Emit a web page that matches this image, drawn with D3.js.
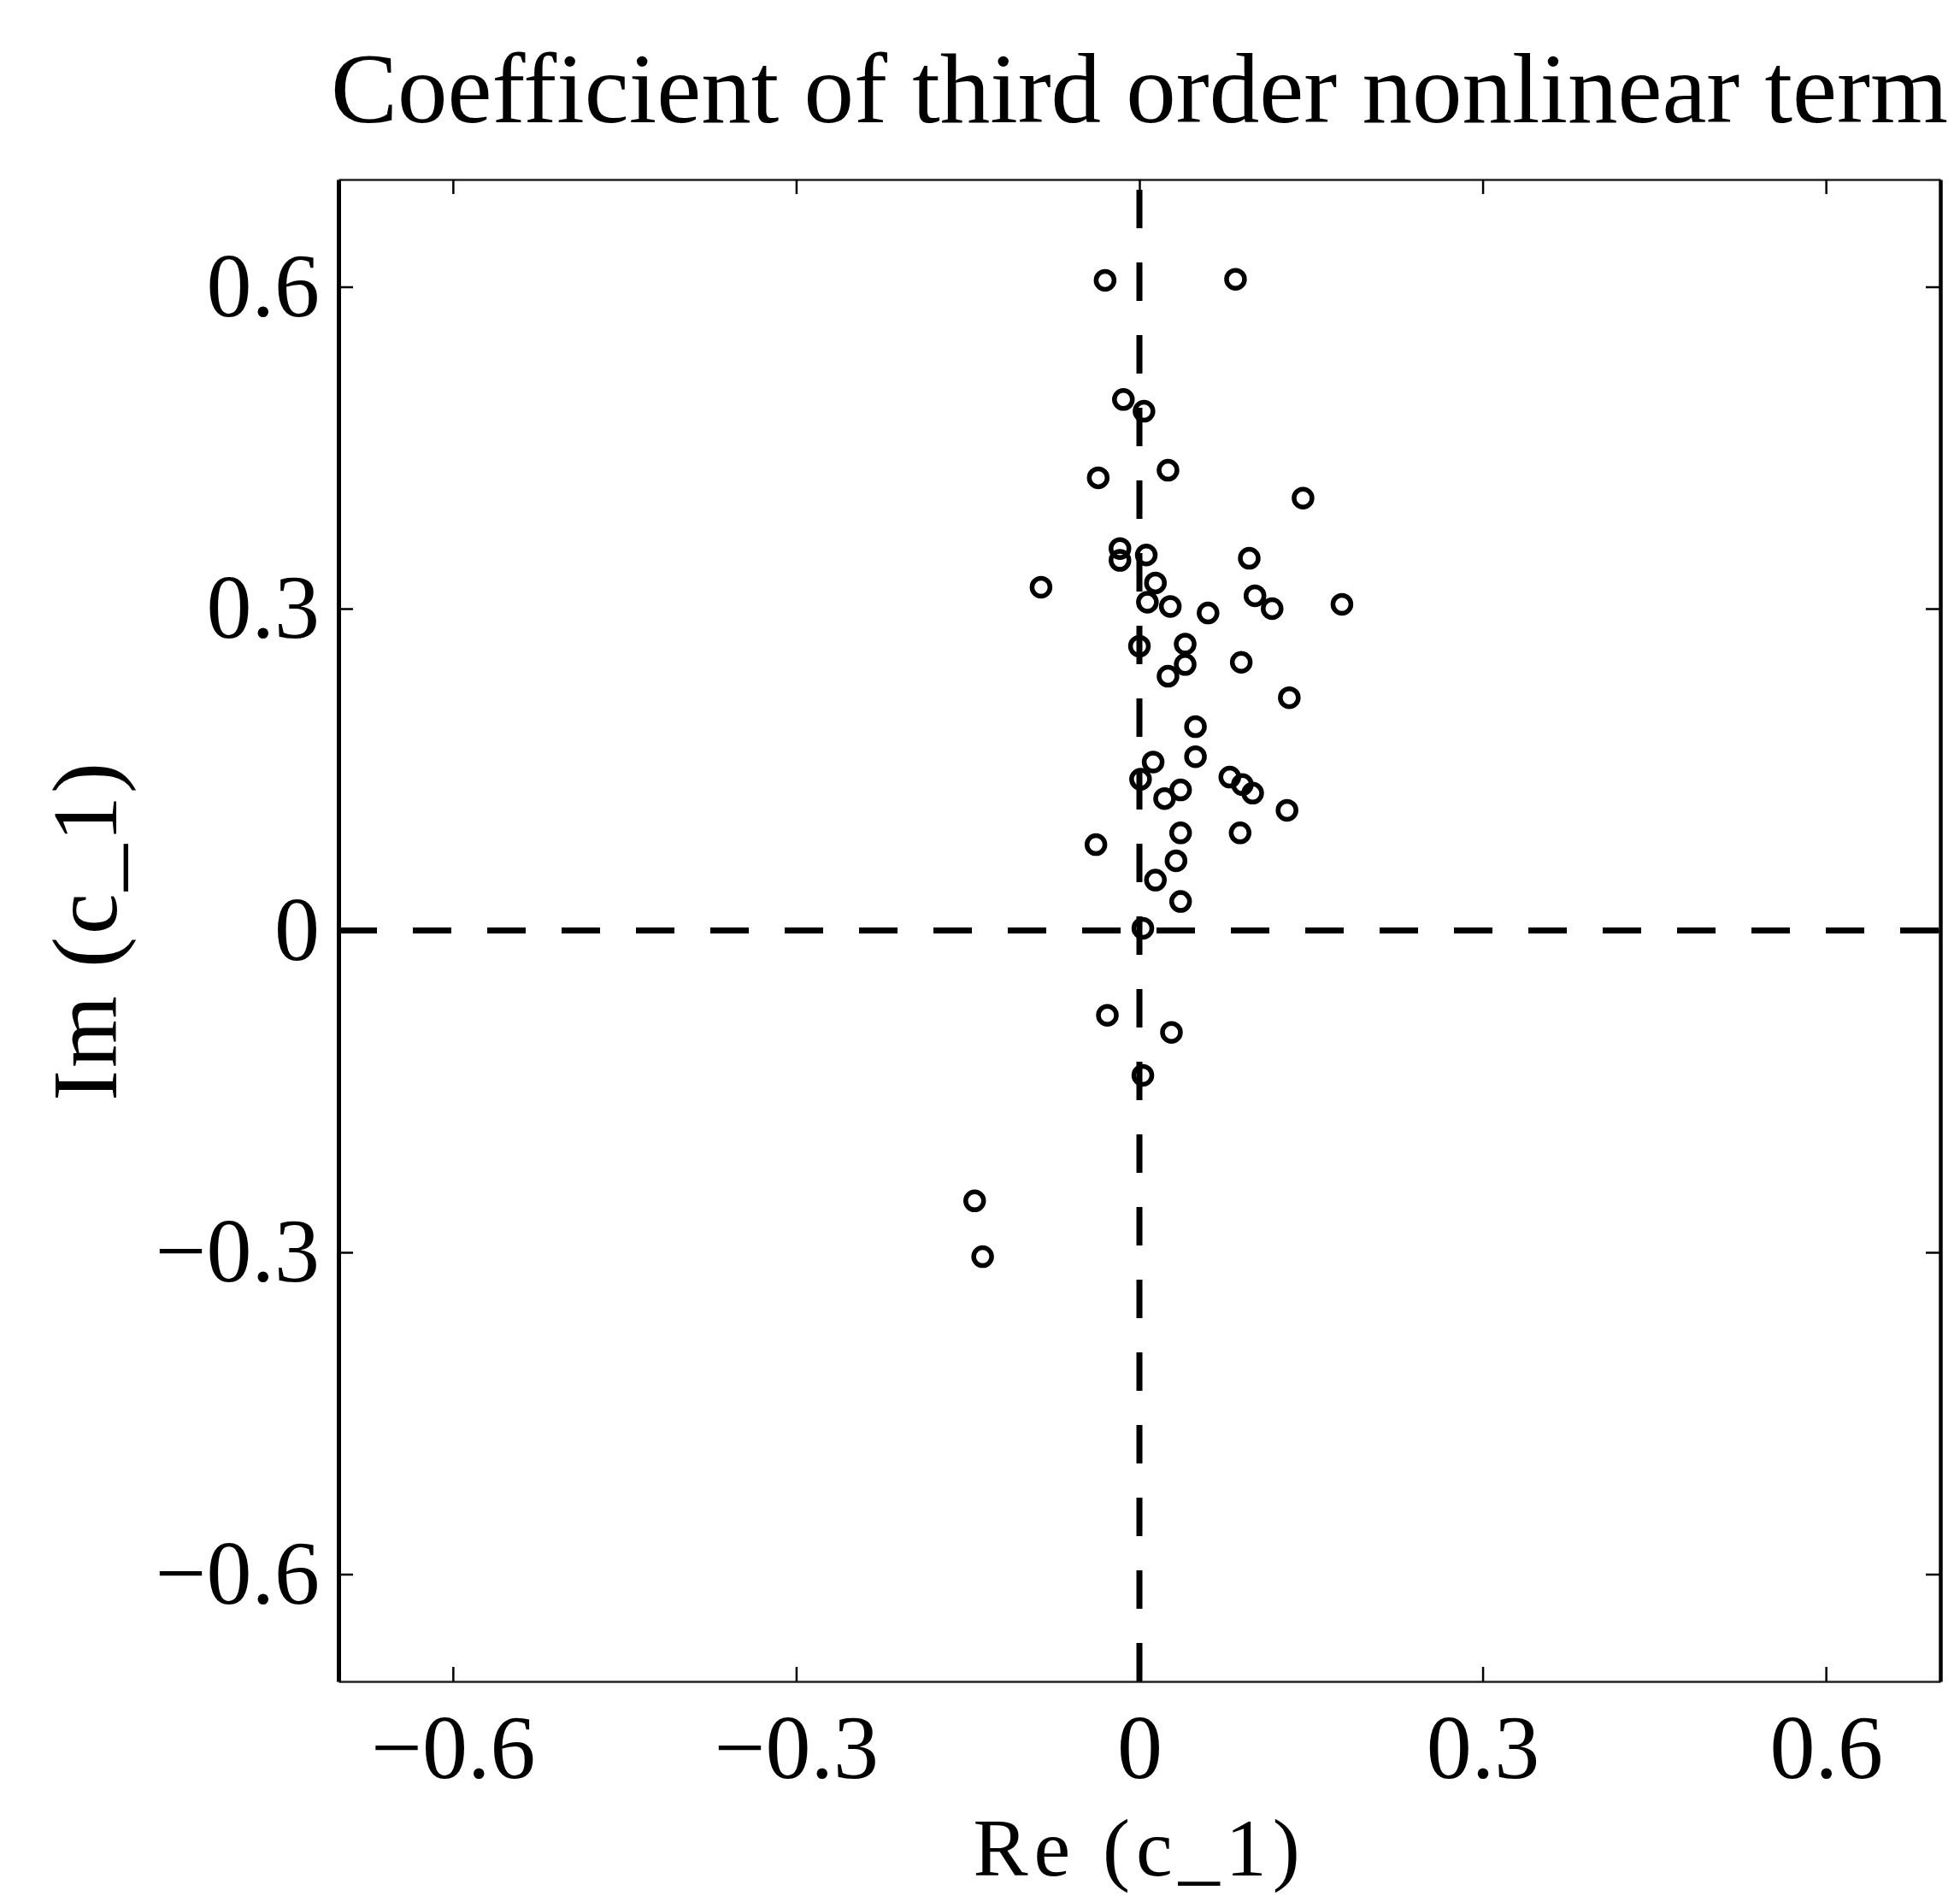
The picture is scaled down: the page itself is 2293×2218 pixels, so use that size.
<!DOCTYPE html>
<html>
<head>
<meta charset="utf-8">
<script src="https://cdn.jsdelivr.net/npm/d3@7"></script>
<style>
  body { margin: 0; background: #fff; }
  svg { display: block; background: #fff; }
  text { font-family: 'Liberation Serif', 'Times New Roman', serif; fill: #000; }
</style>
</head>
<body>
<svg id="chart"></svg>
<script>
const reValues = [-0.030, 0.084, -0.014, 0.004, -0.036, 0.025, 0.143, -0.017, -0.017, 0.006,
  0.096, -0.086, 0.014, 0.007, 0.027, 0.060, 0.101, 0.116, 0.177, 0.000,
  0.040, 0.040, 0.025, 0.089, 0.131, 0.049, 0.049, 0.012, 0.001, 0.036,
  0.022, 0.079, 0.090, 0.099, 0.129, 0.088, -0.038, 0.036, 0.032, 0.014,
  0.036, 0.003, -0.028, 0.028, 0.003, -0.144, -0.137]
const imValues = [0.606, 0.607, 0.495, 0.484, 0.422, 0.429, 0.403, 0.356, 0.345, 0.350,
  0.347, 0.320, 0.324, 0.306, 0.302, 0.296, 0.312, 0.300, 0.304, 0.265,
  0.267, 0.248, 0.237, 0.250, 0.217, 0.190, 0.162, 0.157, 0.141, 0.131,
  0.123, 0.143, 0.136, 0.128, 0.112, 0.091, 0.080, 0.091, 0.065, 0.047,
  0.027, 0.002, -0.079, -0.095, -0.135, -0.252, -0.304]

const axisLimits = [-0.7, 0.7]
const tickValues = [-0.6, -0.3, 0, 0.3, 0.6]
const tickLabels = ['\u22120.6', '\u22120.3', '0', '0.3', '0.6']

const titleText = 'Coefficient of third order nonlinear term'
const xLabel = 'Re (c_1)'
const yLabel = 'Im (c_1)'

const width = 2293
const height = 2218
const plotLeft = 396
const plotRight = 2270
const plotTop = 210
const plotBottom = 1967
const tickLen = 17

const svg = d3.select('#chart').attr('width', width).attr('height', height)

const x = d3.scaleLinear().domain(axisLimits).range([plotLeft, plotRight])
const y = d3.scaleLinear().domain(axisLimits).range([plotBottom, plotTop])

const fmt = (d) => tickLabels[tickValues.indexOf(d)]

const styleAxis = (g, domainWidth, domainColor) => {
  g.attr('font-family', null).attr('font-size', null)
  g.select('.domain').attr('stroke', domainColor).attr('stroke-width', domainWidth)
  g.selectAll('.tick line').attr('stroke', '#000').attr('stroke-width', 2.5)
  g.selectAll('.tick text').attr('font-size', 106)
}

// bottom axis with labels
svg.append('g')
  .attr('transform', 'translate(0,' + plotBottom + ')')
  .call(d3.axisBottom(x).tickValues(tickValues).tickFormat(fmt)
    .tickSizeInner(-tickLen).tickSizeOuter(0).tickPadding(38))
  .call((g) => styleAxis(g, 2.5, '#222'))

// top axis, ticks only
svg.append('g')
  .attr('transform', 'translate(0,' + plotTop + ')')
  .call(d3.axisTop(x).tickValues(tickValues).tickFormat('')
    .tickSizeInner(-tickLen).tickSizeOuter(0))
  .call((g) => styleAxis(g, 2.5, '#222'))

// left axis with labels
svg.append('g')
  .attr('transform', 'translate(' + plotLeft + ',0)')
  .call(d3.axisLeft(y).tickValues(tickValues).tickFormat(fmt)
    .tickSizeInner(-tickLen).tickSizeOuter(0).tickPadding(22))
  .call((g) => styleAxis(g, 5, '#000'))

// right axis, ticks only
svg.append('g')
  .attr('transform', 'translate(' + plotRight + ',0)')
  .call(d3.axisRight(y).tickValues(tickValues).tickFormat('')
    .tickSizeInner(-tickLen).tickSizeOuter(0))
  .call((g) => styleAxis(g, 4.5, '#000'))

// dashed zero lines
const line = d3.line().x((d) => x(d[0])).y((d) => y(d[1]))

svg.append('path')
  .attr('d', line(axisLimits.map((v) => [v, 0])))
  .attr('fill', 'none')
  .attr('stroke', '#000')
  .attr('stroke-width', 7)
  .attr('stroke-dasharray', '45,42')

svg.append('path')
  .attr('d', line(axisLimits.map((v) => [0, v])))
  .attr('fill', 'none')
  .attr('stroke', '#000')
  .attr('stroke-width', 7)
  .attr('stroke-dasharray', '45,40')

// points
svg.append('g')
  .selectAll('circle')
  .data(d3.zip(reValues, imValues))
  .enter()
  .append('circle')
  .attr('cx', (d) => x(d[0]))
  .attr('cy', (d) => y(d[1]))
  .attr('r', 10.5)
  .attr('fill', 'none')
  .attr('stroke', '#000')
  .attr('stroke-width', 5.5)

// title and labels
svg.append('text')
  .attr('x', (plotLeft + plotRight) / 2)
  .attr('y', 143)
  .attr('text-anchor', 'middle')
  .attr('font-size', 117)
  .text(titleText)

svg.append('text')
  .attr('x', x(0))
  .attr('y', 2194)
  .attr('text-anchor', 'middle')
  .attr('font-size', 96)
  .attr('letter-spacing', 7)
  .text(xLabel)

svg.append('text')
  .attr('transform', 'translate(136,' + y(0) + ') rotate(-90)')
  .attr('text-anchor', 'middle')
  .attr('font-size', 108)
  .attr('letter-spacing', 3)
  .text(yLabel)
</script>
</body>
</html>
